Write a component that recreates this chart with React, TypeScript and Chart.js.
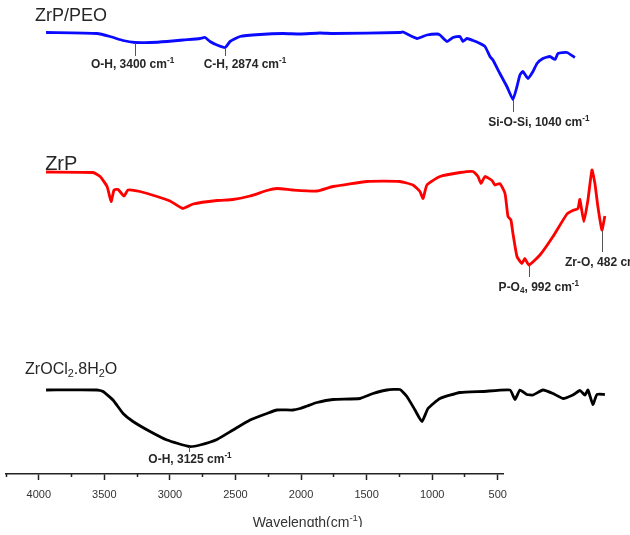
import React, { useEffect, useRef } from 'react';
import { Chart, registerables } from 'chart.js';

Chart.register(...registerables);

const FONT = "'Liberation Sans', Arial, sans-serif";

// ---------- Visible wavenumber axis ----------
const AXIS_MIN = 460;
const AXIS_MAX = 4250;
const MAJOR_TICKS = [500, 1000, 1500, 2000, 2500, 3000, 3500, 4000];
const MINOR_TICKS = [750, 1250, 1750, 2250, 2750, 3250, 3750, 4250];
const AXIS_TITLE = 'Wavelength(cm^{-1})';
const AXIS_TITLE_AT = 1950;

// ---------- Spectra (own wavenumber scale, offset transmittance a.u.) ----------
const DATA_MIN = 1057;
const DATA_MAX = 4258;

const peoWave = [4000, 3672, 3588, 3504, 3427, 3330, 3221, 3118, 3008, 2976, 2944, 2899, 2847, 2815, 2751, 2622, 2474, 2364, 2236, 2152, 1721, 1701, 1611, 1547, 1482, 1463, 1418, 1379, 1334, 1315, 1289, 1250, 1205, 1173, 1141, 1122, 1077, 1032, 993, 967, 948, 929, 896, 864, 838, 800, 755, 722, 703, 645, 594];
const peoT = [88.3, 88.1, 87.5, 86.7, 86.3, 86.3, 86.5, 86.8, 87.1, 87.3, 86.5, 85.8, 85.3, 86.5, 87.5, 87.9, 88.1, 88.0, 88.2, 88.1, 88.3, 88.4, 87.1, 87.8, 88.0, 87.8, 86.5, 87.3, 87.5, 86.5, 87.1, 86.7, 86.1, 85.5, 83.5, 82.8, 80.1, 77.5, 74.9, 77.5, 79.8, 80.5, 79.1, 80.5, 82.1, 83.1, 83.5, 82.9, 84.1, 84.3, 83.3];

const zrpWave = [4000, 3697, 3652, 3607, 3581, 3562, 3536, 3498, 3472, 3395, 3285, 3202, 3118, 3053, 2899, 2796, 2686, 2577, 2513, 2410, 2255, 2152, 1933, 1721, 1637, 1592, 1572, 1547, 1463, 1334, 1250, 1218, 1199, 1173, 1128, 1109, 1077, 1044, 1025, 1006, 993, 967, 935, 916, 890, 819, 735, 645, 607, 574, 562, 536, 510, 484, 465, 446, 420, 401];
const zrpT = [60.4, 60.3, 59.5, 57.5, 54.5, 56.8, 56.9, 55.6, 56.8, 56.5, 55.5, 54.6, 53.1, 54.0, 54.7, 54.9, 55.6, 56.7, 57.1, 56.8, 56.6, 57.5, 58.5, 58.5, 57.8, 56.5, 55.1, 57.8, 59.5, 60.3, 60.5, 59.5, 58.1, 59.5, 58.7, 57.8, 58.1, 56.1, 51.5, 50.8, 48.1, 43.5, 42.1, 43.1, 41.8, 43.8, 47.5, 52.0, 52.7, 53.1, 54.9, 50.5, 54.8, 60.8, 58.1, 53.5, 48.8, 51.6];

const zroWave = [4000, 3672, 3633, 3569, 3504, 3440, 3330, 3221, 3079, 3008, 2899, 2796, 2686, 2577, 2513, 2410, 2364, 2319, 2255, 2152, 1978, 1894, 1804, 1721, 1676, 1624, 1579, 1540, 1463, 1334, 1186, 1012, 980, 948, 903, 864, 800, 735, 671, 607, 562, 529, 510, 478, 452, 401];
const zroT = [16.8, 16.8, 16.5, 14.8, 12.1, 10.5, 8.5, 6.8, 5.5, 5.8, 6.9, 8.8, 10.8, 12.1, 12.8, 12.8, 13.1, 13.6, 14.3, 14.9, 15.1, 16.1, 16.8, 16.9, 15.5, 12.8, 10.5, 13.1, 15.1, 16.3, 16.5, 16.8, 14.9, 16.8, 15.9, 15.8, 16.8, 16.1, 15.1, 15.8, 16.7, 15.8, 16.8, 13.9, 15.9, 15.9];

// ---------- Series names ----------
const seriesNames = ['ZrP/PEO', 'ZrP', 'ZrOCl_{2}.8H_{2}O'];
const seriesColors = ['#0a0aff', '#ff0000', '#000000'];
const nameWave = [4071, 4006, 4135];
const nameT = [91.8, 62.2, 21.2];

// ---------- Peak annotations ----------
const annoText = ['O-H, 3400 cm^{-1}', 'C-H, 2874 cm^{-1}', 'Si-O-Si, 1040 cm^{-1}', 'P-O_{4}, 992 cm^{-1}', 'Zr-O, 482 cm^{-1}', 'O-H, 3125 cm^{-1}'];
const annoWave = [3427, 2847, 993, 890, 420, 3079];
const annoTop = [86.2, 85.2, 74.8, 41.6, 48.6, 5.4];
const annoBottom = [83.6, 83.6, 72.4, 39.4, 44.4, 4.4];
const annoLabelWave = [3443, 2719, 826, 826, 400, 3073];
const annoLabelT = [82.1, 82.1, 70.5, 37.5, 42.5, 3.1];

const NAME_SIZES = [18, 20, 16];
const ANNO_SIZE = 12;

type Seg = { t: string; m: 'n' | 'sup' | 'sub' };
function parseRich(s: string): Seg[] {
  const segs: Seg[] = [];
  const re = /\^\{([^}]*)\}|_\{([^}]*)\}|([^^_]+)/g;
  let m: RegExpExecArray | null;
  while ((m = re.exec(s))) {
    if (m[1] !== undefined) segs.push({ t: m[1], m: 'sup' });
    else if (m[2] !== undefined) segs.push({ t: m[2], m: 'sub' });
    else segs.push({ t: m[3], m: 'n' });
  }
  return segs;
}

function drawRich(ctx: CanvasRenderingContext2D, s: string, x: number, y: number, size: number, weight: string, align: 'left' | 'center') {
  const segs = parseRich(s);
  const fontFor = (m: Seg['m']) => `${weight} ${m === 'n' ? size : size * 0.68}px ${FONT}`;
  let total = 0;
  const widths = segs.map((sg) => {
    ctx.font = fontFor(sg.m);
    const w = ctx.measureText(sg.t).width;
    total += w;
    return w;
  });
  let cx = align === 'center' ? x - total / 2 : x;
  ctx.textAlign = 'left';
  ctx.textBaseline = 'alphabetic';
  segs.forEach((sg, i) => {
    ctx.font = fontFor(sg.m);
    const dy = sg.m === 'sup' ? -size * 0.4 : sg.m === 'sub' ? size * 0.22 : 0;
    ctx.fillText(sg.t, cx, y + dy);
    cx += widths[i];
  });
}

const overlayPlugin = {
  id: 'overlay',
  afterDatasetsDraw(chart: any) {
    const ctx: CanvasRenderingContext2D = chart.ctx;
    const xs = chart.scales.x2;
    const ys = chart.scales.y;
    const xa = chart.scales.x;
    ctx.save();
    seriesNames.forEach((name, i) => {
      ctx.fillStyle = '#262626';
      const px = xs.getPixelForValue(nameWave[i]);
      const py = ys.getPixelForValue(nameT[i]) + NAME_SIZES[i] * 0.36;
      drawRich(ctx, name, px, py, NAME_SIZES[i], 'normal', 'left');
    });
    annoWave.forEach((w, i) => {
      const px = Math.round(xs.getPixelForValue(w)) + 0.5;
      ctx.strokeStyle = '#555';
      ctx.lineWidth = 1;
      ctx.beginPath();
      ctx.moveTo(px, ys.getPixelForValue(annoTop[i]));
      ctx.lineTo(px, ys.getPixelForValue(annoBottom[i]));
      ctx.stroke();
      ctx.fillStyle = '#262626';
      drawRich(ctx, annoText[i], xs.getPixelForValue(annoLabelWave[i]), ys.getPixelForValue(annoLabelT[i]) + ANNO_SIZE * 0.36, ANNO_SIZE, 'bold', 'center');
    });
    ctx.fillStyle = '#333';
    drawRich(ctx, AXIS_TITLE, xa.getPixelForValue(AXIS_TITLE_AT), xa.bottom + 17.5, 14, 'normal', 'center');
    ctx.restore();
  },
};

const zip = (w: number[], t: number[]) => w.map((x, i) => ({ x, y: t[i] }));

export default function App() {
  const ref = useRef<HTMLCanvasElement>(null);
  useEffect(() => {
    const series = [zip(peoWave, peoT), zip(zrpWave, zrpT), zip(zroWave, zroT)];
    const chart = new Chart(ref.current as HTMLCanvasElement, {
      type: 'line',
      data: {
        datasets: series.map((d, i) => ({
          label: seriesNames[i],
          data: d,
          xAxisID: 'x2',
          yAxisID: 'y',
          borderColor: seriesColors[i],
          borderWidth: 2.8,
          pointRadius: 0,
          tension: 0.15,
          fill: false,
          clip: false as any,
        })),
      },
      options: {
        animation: false,
        responsive: false,
        layout: { padding: { left: 6, right: 127, top: 24, bottom: 17.8 } },
        plugins: { legend: { display: false }, tooltip: { enabled: false }, title: { display: false } },
        scales: {
          x: {
            type: 'linear',
            position: 'bottom',
            reverse: true,
            min: AXIS_MIN,
            max: AXIS_MAX,
            afterBuildTicks: (s: any) => {
              s.ticks = MAJOR_TICKS.map((value) => ({ value }));
            },
            ticks: {
              autoSkip: false,
              maxRotation: 0,
              padding: 8,
              color: '#333',
              font: { size: 11, family: FONT },
              callback: (v: any) => String(v),
            },
            grid: { drawOnChartArea: false, drawTicks: true, tickLength: 6, tickWidth: 1.5, tickColor: '#222' },
            border: { display: true, color: '#222', width: 1.5 },
          },
          xMinor: {
            type: 'linear',
            position: { y: 0 } as any,
            reverse: true,
            min: AXIS_MIN,
            max: AXIS_MAX,
            afterBuildTicks: (s: any) => {
              s.ticks = MINOR_TICKS.map((value) => ({ value }));
            },
            ticks: { autoSkip: false, display: false },
            grid: { drawOnChartArea: false, drawTicks: true, tickLength: 3, tickWidth: 1.5, tickColor: '#222' },
            border: { display: false },
          },
          x2: { type: 'linear', display: false, reverse: true, min: DATA_MIN, max: DATA_MAX },
          y: { type: 'linear', display: false, min: 0, max: 90 },
        } as any,
      },
      plugins: [overlayPlugin],
    });
    return () => chart.destroy();
  }, []);
  return (
    <div style={{ position: 'absolute', left: 0, top: 0, width: 630, height: 527, background: '#fff' }}>
      <canvas ref={ref} width={630} height={527} style={{ display: 'block' }} />
    </div>
  );
}
